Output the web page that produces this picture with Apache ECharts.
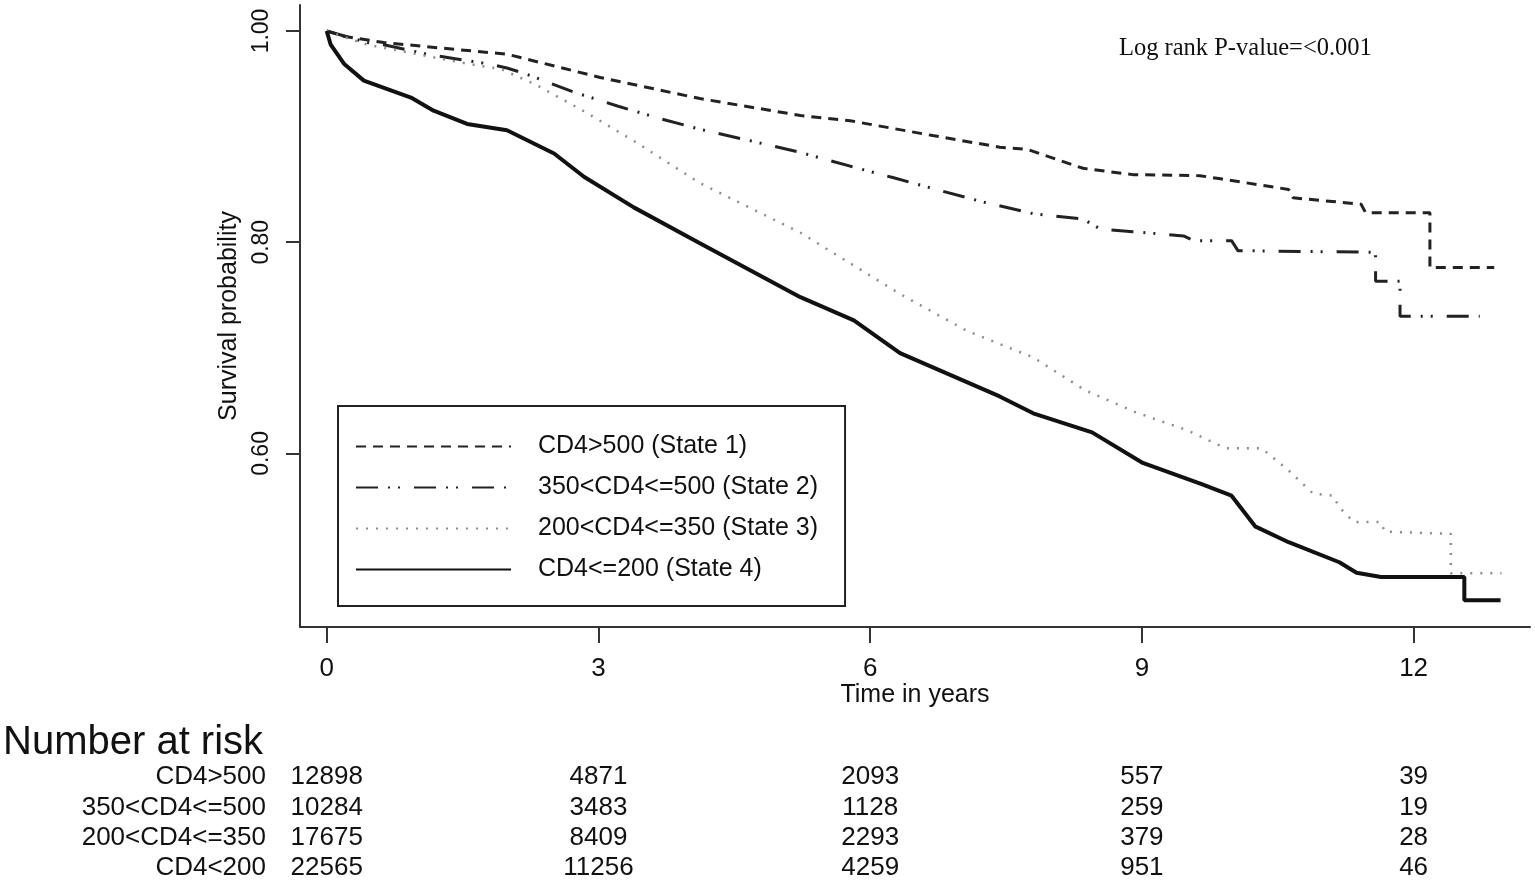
<!DOCTYPE html>
<html>
<head>
<meta charset="utf-8">
<script src="https://cdn.jsdelivr.net/npm/echarts@6.0.0/dist/echarts.min.js"></script>
<style>
html,body{margin:0;padding:0;background:#fff;}
#chart{width:1535px;height:881px;}
</style>
</head>
<body>
<div id="chart"></div>
<script>
// ---- Data ----
const seriesNames = ['CD4>500 (State 1)', '350<CD4<=500 (State 2)', '200<CD4<=350 (State 3)', 'CD4<=200 (State 4)'];

const t1 = [0, 0.19, 0.63, 1.99, 3.02, 4.12, 5.23, 5.78, 6.69, 7.43, 7.73, 8.35, 8.90, 9.64, 9.87, 10.62, 10.67, 11.42, 11.47, 12.18, 12.18, 12.89];
const s1 = [1.0, 0.995, 0.989, 0.978, 0.956, 0.936, 0.920, 0.915, 0.901, 0.890, 0.888, 0.870, 0.864, 0.863, 0.860, 0.850, 0.842, 0.836, 0.828, 0.828, 0.776, 0.776];

const t2 = [0, 0.45, 0.63, 1.11, 1.77, 1.99, 2.21, 2.73, 3.21, 3.68, 4.12, 4.68, 5.23, 5.78, 6.26, 6.77, 7.25, 7.80, 8.35, 8.54, 8.90, 9.46, 9.57, 9.99, 10.06, 11.58, 11.58, 11.85, 11.85, 12.73];
const s2 = [1.0, 0.989, 0.987, 0.978, 0.969, 0.965, 0.959, 0.942, 0.929, 0.917, 0.907, 0.896, 0.885, 0.872, 0.861, 0.849, 0.838, 0.827, 0.822, 0.8125, 0.810, 0.806, 0.8015, 0.8015, 0.792, 0.7905, 0.763, 0.763, 0.730, 0.730];

const t3 = [0, 0.45, 0.82, 1.55, 1.92, 2.29, 2.84, 3.39, 4.12, 5.23, 6.33, 7.07, 7.80, 8.37, 8.93, 9.50, 9.92, 10.32, 10.62, 10.89, 11.11, 11.18, 11.34, 11.64, 11.68, 12.36, 12.41, 12.41, 12.97];
const s3 = [1.0, 0.987, 0.981, 0.969, 0.964, 0.950, 0.924, 0.896, 0.856, 0.809, 0.751, 0.716, 0.691, 0.660, 0.639, 0.622, 0.605, 0.605, 0.584, 0.562, 0.560, 0.549, 0.535, 0.535, 0.526, 0.524, 0.524, 0.4865, 0.4865];

const t4 = [0, 0.044, 0.19, 0.41, 0.93, 1.18, 1.55, 1.99, 2.51, 2.84, 3.39, 4.12, 5.23, 5.82, 6.33, 7.43, 7.80, 8.45, 9.01, 9.66, 9.99, 10.25, 10.62, 11.18, 11.37, 11.64, 12.56, 12.56, 12.96];
const s4 = [1.0, 0.987, 0.969, 0.953, 0.937, 0.9245, 0.912, 0.906, 0.884, 0.862, 0.833, 0.799, 0.748, 0.726, 0.695, 0.654, 0.638, 0.620, 0.591, 0.571, 0.560, 0.531, 0.516, 0.497, 0.487, 0.483, 0.483, 0.461, 0.461];

const xTicks = [0, 3, 6, 9, 12];
const yTicks = [0.60, 0.80, 1.00];

const riskRows = ['CD4>500', '350<CD4<=500', '200<CD4<=350', 'CD4<200'];
const riskTimes = [0, 3, 6, 9, 12];
const risk1 = [12898, 4871, 2093, 557, 39];
const risk2 = [10284, 3483, 1128, 259, 19];
const risk3 = [17675, 8409, 2293, 379, 28];
const risk4 = [22565, 11256, 4259, 951, 46];

// ---- Build chart ----
const FONT = '"Liberation Sans", Arial, sans-serif';
const zip = (a, b) => a.map((v, i) => [v, b[i]]);
const lineData = [zip(t1, s1), zip(t2, s2), zip(t3, s3), zip(t4, s4)];
const lineStyles = [
  {color: '#222', width: 3, type: [10, 7], cap: 'butt'},
  {color: '#222', width: 3, type: [22, 10, 2, 8, 2, 14], cap: 'butt'},
  {color: '#8c8c8c', width: 2.5, type: [2, 8], cap: 'butt'},
  {color: '#111', width: 4, type: 'solid', cap: 'butt'}
];
const riskData = [risk1, risk2, risk3, risk4];

const XMIN = -0.295, XMAX = 13.285;
const YMIN = 0.4357, YMAX = 1.0246;

const series = lineData.map((d, i) => ({
  name: seriesNames[i],
  type: 'line',
  xAxisIndex: 0, yAxisIndex: 0,
  data: d,
  symbol: 'none',
  showSymbol: false,
  lineStyle: lineStyles[i],
  itemStyle: {color: lineStyles[i].color},
  silent: true,
  z: 3
}));

riskData.forEach((vals, r) => {
  series.push({
    name: 'risk_' + r,
    type: 'scatter',
    xAxisIndex: 1, yAxisIndex: 1,
    data: vals.map((v, k) => [riskTimes[k], riskRows[r], v]),
    symbolSize: 1,
    itemStyle: {color: '#fff', opacity: 0},
    label: {
      show: true, position: 'inside',
      formatter: p => String(p.value[2]),
      fontFamily: FONT, fontSize: 26, color: '#111',
      textBorderWidth: 0, textBorderColor: 'transparent', opacity: 1
    },
    silent: true
  });
});

const chart = echarts.init(document.getElementById('chart'));
chart.setOption({
  animation: false,
  backgroundColor: '#fff',
  title: [
    {text: 'Number at risk', left: 3, top: 723, padding: 0,
     textStyle: {fontFamily: FONT, fontSize: 40, fontWeight: 'normal', color: '#111'}},
    {text: 'Log rank P-value=<0.001', left: 1119, top: 36, padding: 0,
     textStyle: {fontFamily: '"Liberation Serif", "Times New Roman", serif', fontSize: 24.5, fontWeight: 'normal', color: '#111'}}
  ],
  legend: {
    data: seriesNames,
    orient: 'vertical',
    left: 338, top: 406,
    backgroundColor: '#fff',
    borderColor: '#222', borderWidth: 2,
    padding: [28, 27, 24, 17],
    itemWidth: 155, itemHeight: 26, itemGap: 16,
    itemStyle: {opacity: 0},
    textStyle: {fontFamily: FONT, fontSize: 25, color: '#111', padding: [0, 0, 0, 22]},
    selectedMode: false,
    z: 5
  },
  grid: [
    {left: 300, right: 5, top: 5, bottom: 254, containLabel: false},
    {left: 300, right: 5, top: 777, bottom: 13, containLabel: false}
  ],
  xAxis: [
    {
      gridIndex: 0, type: 'value', min: XMIN, max: XMAX,
      name: 'Time in years', nameLocation: 'middle', nameGap: 56, nameMoveOverlap: false,
      nameTextStyle: {fontFamily: FONT, fontSize: 25, color: '#111'},
      axisLine: {show: true, onZero: false, lineStyle: {color: '#333', width: 2}},
      axisTick: {show: true, customValues: xTicks, length: 16, lineStyle: {color: '#333', width: 2}},
      axisLabel: {customValues: xTicks, margin: 29, fontFamily: FONT, fontSize: 26, color: '#111'},
      splitLine: {show: false}
    },
    {
      gridIndex: 1, type: 'value', min: XMIN, max: XMAX, show: false
    }
  ],
  yAxis: [
    {
      gridIndex: 0, type: 'value', min: YMIN, max: YMAX,
      name: 'Survival probability', nameLocation: 'middle', nameGap: 54,
      nameTextStyle: {fontFamily: FONT, fontSize: 25, color: '#111'},
      axisLine: {show: true, onZero: false, lineStyle: {color: '#333', width: 2}},
      axisTick: {show: true, customValues: yTicks, length: 14, lineStyle: {color: '#333', width: 2}},
      axisLabel: {customValues: yTicks, rotate: 90, margin: 27, fontFamily: FONT, fontSize: 23, color: '#111',
                  formatter: v => Number(v).toFixed(2)},
      splitLine: {show: false}
    },
    {
      gridIndex: 1, type: 'category', data: riskRows, inverse: true, boundaryGap: false,
      axisLine: {show: false}, axisTick: {show: false}, splitLine: {show: false},
      axisLabel: {interval: 0, margin: 34, fontFamily: FONT, fontSize: 26, color: '#111'}
    }
  ],
  series: series
});
</script>
</body>
</html>
